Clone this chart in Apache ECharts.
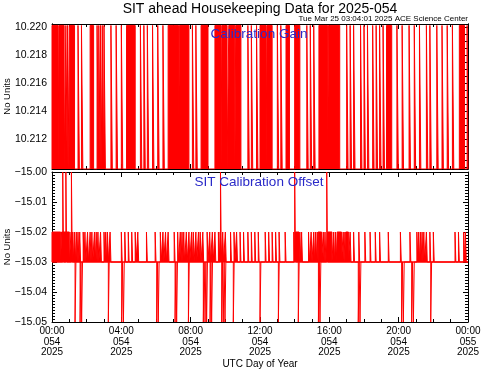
<!DOCTYPE html>
<html><head><meta charset="utf-8">
<script src="https://cdn.jsdelivr.net/npm/echarts@6/dist/echarts.min.js"></script>
<style>html,body{margin:0;padding:0;background:#fff}#c{width:481px;height:370px}</style>
</head><body><div id="c"></div>
<script>
// ---------- data (hours of day 054) ----------
const xTickHours = [0, 4, 8, 12, 16, 20, 24];
const xTickLabels = ['00:00\n054\n2025', '04:00\n054\n2025', '08:00\n054\n2025', '12:00\n054\n2025',
                     '16:00\n054\n2025', '20:00\n054\n2025', '00:00\n055\n2025'];
const gainTicks = [10.212, 10.214, 10.216, 10.218, 10.220];
const gainRange = [10.2099, 10.2202];
const gainLow = 10.2099;
const gainHigh = 10.2201;
// intervals spent at the high gain value
const gainBlocks = [[0, 0.35], [0.4, 0.7], [1.0, 1.3], [2.2, 2.4], [4.3, 4.8], [6.7, 7.3], [7.35, 7.9],
  [8.6, 9.0], [9.4, 9.75], [9.8, 10.1], [10.2, 10.55], [10.6, 10.9], [12.0, 12.35], [12.4, 12.7],
  [13.5, 13.7], [14.0, 14.3], [15.4, 15.9], [15.95, 16.6], [19.3, 19.6], [23.5, 23.8], [23.95, 24]];
// single short toggles to the high gain value
const gainLines = [0.8, 0.9, 1.5, 1.7, 2.6, 2.7, 2.8, 2.9, 3.0, 3.4, 3.7, 4.0, 5.1, 5.3, 5.5, 5.8, 6.1,
  6.4, 8.1, 8.3, 11.3, 11.5, 11.8, 13.0, 13.2, 14.7, 14.9, 15.1, 17.0, 17.2, 17.4, 17.8, 18.0, 18.2,
  18.5, 18.7, 18.9, 19.1, 19.9, 20.2, 20.6, 20.9, 21.2, 21.6, 21.8, 22.2, 22.5, 22.8, 23.1];

const offsetTicks = [-15.05, -15.04, -15.03, -15.02, -15.01, -15.00];
const offsetBase = -15.03;
const offsetUp = -15.02;
const offsetDown = -15.05;
const offsetTop = -15.00;
const offsetUpBlocks = [[0, 0.5], [0.55, 1.0], [14.05, 14.25], [15.35, 15.55], [15.9, 16.15],
  [16.45, 16.7], [16.95, 17.1]];
const offsetUpLines = [1.1, 1.2, 1.3, 1.4, 1.5, 1.6, 1.8, 1.9, 2.05, 2.2, 2.3, 2.45, 2.55, 2.65, 2.8,
  3.0, 3.1, 3.2, 3.35, 4.0, 4.2, 4.4, 4.6, 4.8, 4.95, 5.45, 5.95, 6.25, 6.4, 6.55, 6.7, 7.05, 7.25,
  7.4, 7.5, 7.6, 7.75, 7.9, 8.05, 8.15, 8.3, 8.45, 8.55, 8.7, 8.95, 9.1, 9.25, 9.4, 9.6, 9.7, 9.85,
  10.0, 10.3, 10.5, 10.65, 10.85, 11.05, 11.3, 11.5, 11.7, 11.9, 12.3, 12.5, 12.7, 12.9, 13.1, 13.45,
  13.95, 14.3, 14.4, 14.8, 14.95, 15.1, 15.2, 15.3, 15.65, 15.75, 16.25, 16.35, 16.8, 16.9, 17.2,
  17.4, 17.7, 18.05, 18.35, 18.65, 18.9, 19.4, 20.1, 20.65, 21.05, 21.15, 21.25, 21.35, 21.45, 21.6,
  21.8, 22.0, 23.25, 23.45, 23.75, 23.85];
const offsetDownLines = [1.33, 1.62, 1.71, 3.25, 4.02, 4.12, 6.04, 6.13, 7.1, 7.19, 7.87, 8.73, 8.83,
  8.92, 9.12, 9.21, 9.79, 9.88, 9.98, 10.46, 12.0, 13.06, 14.21, 15.37, 15.46, 17.67, 17.77, 20.17,
  20.27, 20.75, 20.85, 21.85];
const offsetTopLines = [0.62, 0.8, 1.12, 9.72, 14.0, 15.85];

// ---------- build step traces ----------
function buildSteps(blocks, lines, base, level, pulse) {
  const segs = blocks.map(b => [b[0], b[1]]).concat(lines.map(t => [t, t + pulse]));
  segs.sort((a, b) => a[0] - b[0]);
  const pts = [[0, base]];
  segs.forEach(s => { pts.push([s[0], base], [s[0], level], [s[1], level], [s[1], base]); });
  pts.push([24, base]);
  return pts;
}
const gainData = buildSteps(gainBlocks, gainLines, gainLow, gainHigh, 0.08);
const upData = buildSteps(offsetUpBlocks, offsetUpLines, offsetBase, offsetUp, 0.05);
const downData = buildSteps([], offsetDownLines, offsetBase, offsetDown, 0.05);
const topData = buildSteps([], offsetTopLines, offsetBase, offsetTop, 0.05);

const gainMinor = [];
for (let k = 0; k <= 20; k++) gainMinor.push(+(10.210 + k * 0.0005).toFixed(4));

// ---------- chart ----------
const FONT = "'Liberation Sans', Arial, sans-serif";
const BLK = '#000';
const RED = '#ff0000';
const BLUE = '#2a2ac8';
const aLine = { show: true, onZero: false, lineStyle: { color: BLK, width: 1 } };
const yName = { name: 'No Units', nameLocation: 'middle', nameGap: 40, nameMoveOverlap: false,
  nameTextStyle: { color: BLK, fontFamily: FONT, fontSize: 9.5 } };

function xAx(grid, pos, labels) {
  const a = {
    type: 'value', gridIndex: grid, position: pos, min: 0, max: 24, interval: 4,
    axisLine: aLine, splitLine: { show: false },
    axisTick: { show: true, inside: true, length: 5, lineStyle: { color: BLK } },
    minorTick: { show: true, splitNumber: 4, length: 3, lineStyle: { color: BLK } },
    minorSplitLine: { show: false },
    axisLabel: { show: labels, color: BLK, fontFamily: FONT, fontSize: 10, lineHeight: 10.5, margin: 4,
      formatter: v => { const i = xTickHours.indexOf(v); return i >= 0 ? xTickLabels[i] : ''; } }
  };
  if (labels) {
    a.name = 'UTC Day of Year'; a.nameLocation = 'middle'; a.nameGap = 37; a.nameMoveOverlap = false;
    a.nameTextStyle = { color: BLK, fontFamily: FONT, fontSize: 10 };
  }
  return a;
}
function gainAx(pos, major, labels) {
  const vals = major ? gainTicks : gainMinor;
  const a = {
    type: 'value', gridIndex: 0, position: pos, min: gainRange[0], max: gainRange[1],
    axisLine: aLine, splitLine: { show: false },
    axisTick: { show: true, inside: true, length: major ? 5 : 3, customValues: vals, lineStyle: { color: BLK } },
    axisLabel: { show: labels, customValues: gainTicks, color: BLK, fontFamily: FONT, fontSize: 10.5, margin: 5,
      formatter: v => v.toFixed(3) }
  };
  return labels ? Object.assign(a, yName) : a;
}
function offAx(pos, labels) {
  const a = {
    type: 'value', gridIndex: 1, position: pos, min: offsetTicks[0], max: offsetTicks[offsetTicks.length - 1],
    interval: 0.01,
    axisLine: aLine, splitLine: { show: false }, minorSplitLine: { show: false },
    axisTick: { show: true, inside: true, length: 5, lineStyle: { color: BLK } },
    minorTick: { show: true, splitNumber: 10, length: 3, lineStyle: { color: BLK } },
    axisLabel: { show: labels, color: BLK, fontFamily: FONT, fontSize: 10.5, margin: 5,
      formatter: v => v.toFixed(2).replace('-', '\u2212') }
  };
  return labels ? Object.assign(a, yName) : a;
}
function lineSeries(xi, yi, data, area) {
  const s = { type: 'line', xAxisIndex: xi, yAxisIndex: yi, data: data, symbol: 'none', silent: true,
    animation: false, lineStyle: { color: RED, width: 1 }, itemStyle: { color: RED }, z: 2 };
  if (area) s.areaStyle = Object.assign({ color: RED, opacity: 1 }, area);
  return s;
}

const chart = echarts.init(document.getElementById('c'), null, { renderer: 'canvas' });
chart.setOption({
  backgroundColor: '#fff',
  animation: false,
  grid: [
    { left: 52, right: 13, top: 24, height: 145, containLabel: false, outerBoundsMode: 'none' },
    { left: 52, right: 13, top: 172, height: 150, containLabel: false, outerBoundsMode: 'none' }
  ],
  xAxis: [xAx(0, 'bottom', false), xAx(0, 'top', false), xAx(1, 'bottom', true), xAx(1, 'top', false)],
  yAxis: [gainAx('left', true, true), gainAx('left', false, false), gainAx('right', true, false),
          gainAx('right', false, false), offAx('left', true), offAx('right', false)],
  series: [
    lineSeries(0, 0, gainData, { origin: 'start' }),
    lineSeries(2, 4, upData, { origin: offsetBase }),
    lineSeries(2, 4, downData, null),
    lineSeries(2, 4, topData, null)
  ],
  graphic: [
    { type: 'text', x: 260, y: 9, z: 100, style: { text: 'SIT ahead Housekeeping Data for 2025-054',
      fill: BLK, font: '14px ' + FONT, textAlign: 'center', textVerticalAlign: 'middle' } },
    { type: 'text', x: 468, y: 19, z: 100, style: { text: 'Tue Mar 25 03:04:01 2025 ACE Science Center',
      fill: BLK, font: '8px ' + FONT, textAlign: 'right', textVerticalAlign: 'middle' } },
    { type: 'text', x: 259, y: 34, z: 100, style: { text: 'Calibration Gain',
      fill: BLUE, font: '13.5px ' + FONT, textAlign: 'center', textVerticalAlign: 'middle' } },
    { type: 'text', x: 259, y: 182, z: 100, style: { text: 'SIT Calibration Offset',
      fill: BLUE, font: '13.5px ' + FONT, textAlign: 'center', textVerticalAlign: 'middle' } }
  ]
});
</script></body></html>
